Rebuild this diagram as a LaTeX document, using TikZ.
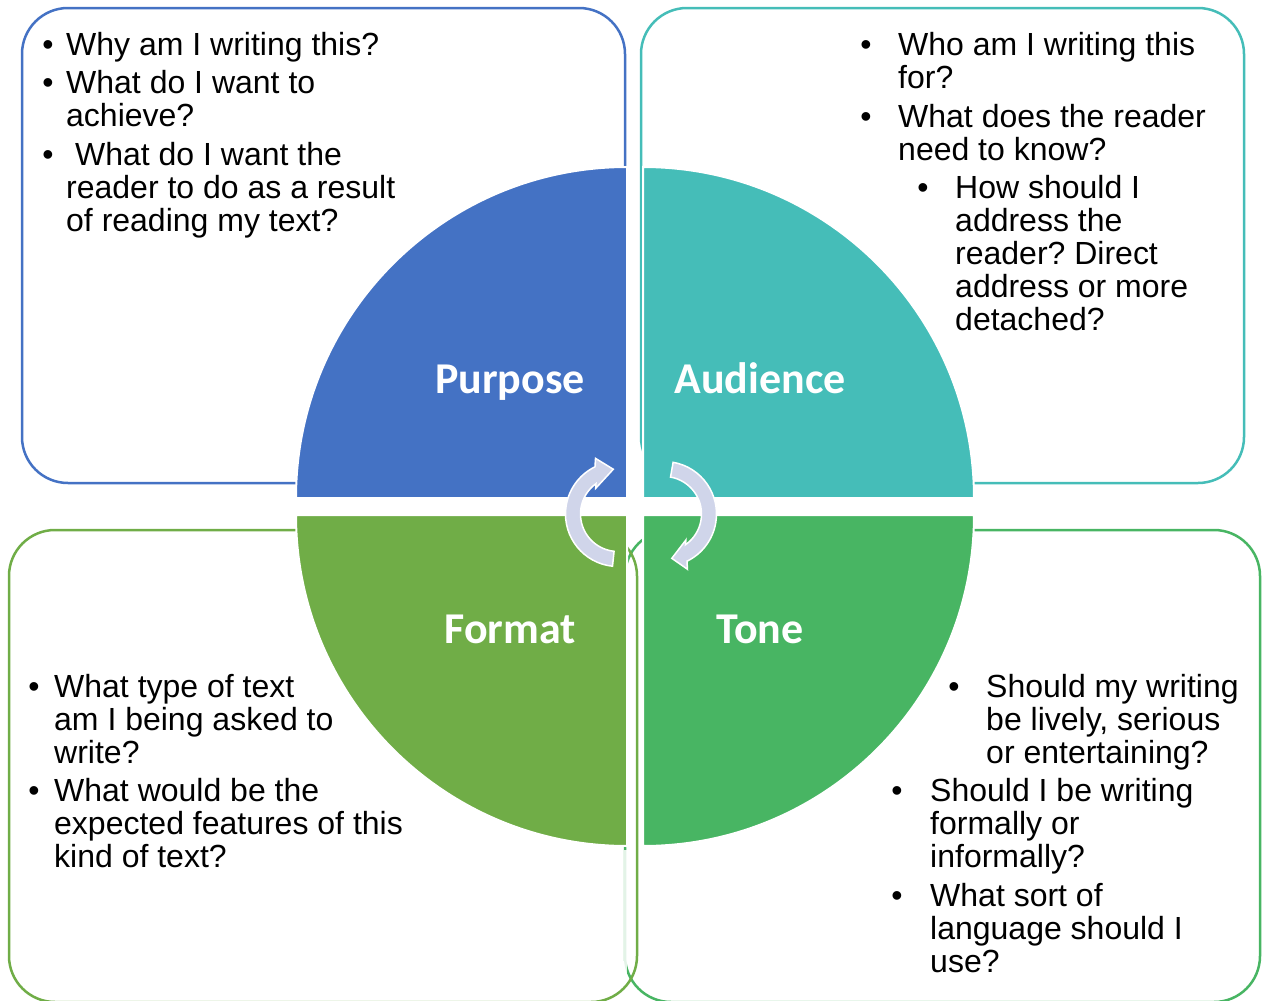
\documentclass[tikz,border=0pt]{standalone}
\usepackage{fontspec}
\setmainfont{Liberation Sans}
\newfontfamily\calibri{Carlito}
\frenchspacing
\definecolor{cPurpose}{HTML}{4472C4}
\definecolor{cAudience}{HTML}{45BDB8}
\definecolor{cFormat}{HTML}{70AD47}
\definecolor{cTone}{HTML}{48B563}
\definecolor{cArrow}{HTML}{D0D5EA}
\newcommand{\lines}[1]{\begin{tabular}[t]{@{}l@{}}#1\end{tabular}}
\begin{document}
\begin{tikzpicture}[x=1pt,y=-1pt,
  box/.style={line width=2.5pt, rounded corners=46pt},
  quad/.style={draw=white, line width=2pt},
  lab/.style={font=\calibri\bfseries\fontsize{44}{44}\selectfont, text=white, anchor=base, inner sep=0pt},
  body/.style={font=\fontsize{32}{33}\selectfont, anchor=base west, inner sep=0pt},
  bul/.style={font=\fontsize{32}{33}\selectfont, anchor=base, inner sep=0pt},
  cyc/.style={fill=cArrow, draw=white, line width=1.5pt, line join=miter}]
\useasboundingbox (0,0) rectangle (1262,1001);

% outline boxes
\draw[box, draw=cTone] (625,530) rectangle (1260,1002);
\draw[white, line width=3pt, opacity=0.85] (625,850) -- (625,975);
\draw[box, draw=cFormat] (9,530) rectangle (637,1002);
\draw[box, draw=cPurpose] (22,8) rectangle (625,483);
\draw[box, draw=cAudience] (641,8) rectangle (1244,483);

% quadrants
\filldraw[quad, fill=cPurpose] (627,498) -- (296,498) arc[start angle=180,end angle=270,radius=331] -- cycle;
\filldraw[quad, fill=cAudience] (643,498) -- (643,167) arc[start angle=270,end angle=360,radius=331] -- cycle;
\filldraw[quad, fill=cFormat] (627,515) -- (296,515) arc[start angle=180,end angle=90,radius=331] -- cycle;
\filldraw[quad, fill=cTone] (643,515) -- (974,515) arc[start angle=0,end angle=90,radius=331] -- cycle;

% labels
\node[lab] (purpose) at (510,393) {Purpose};
\node[lab] (audience) at (760,393) {Audience};
\node[lab] (format) at (510,643) {Format};
\node[lab] (tone) at (760,643) {Tone};

% circular arrows
\begin{scope}[shift={(618,514)}]
\filldraw[cyc] (96:52.5) arc[start angle=96,end angle=244,radius=52.5] -- (248:60) -- (264:45) -- (229:34) -- (234:37.5) arc[start angle=234,end angle=96,radius=37.5] -- cycle;
\end{scope}
\begin{scope}[shift={(664,514)}]
\filldraw[cyc] (280:52.5) arc[start angle=280,end angle=424,radius=52.5] -- (427:60) -- (440:45) -- (410:34) -- (415:37.5) arc[start angle=415,end angle=280,radius=37.5] -- cycle;
\end{scope}

% Purpose text
\node[bul] (pb1) at (48,55) {•};
\node[body] (pt1) at (66,55) {\lines{Why am I writing this?}};
\node[bul] (pb2) at (48,93) {•};
\node[body] (pt2) at (66,93) {\lines{What do I want to\\achieve?}};
\node[bul] (pb3) at (48,165) {•};
\node[body] (pt3) at (66,165) {\lines{\ What do I want the\\reader to do as a result\\of reading my text?}};

% Audience text
\node[bul] (ab1) at (866,55) {•};
\node[body] (at1) at (898,55) {\lines{Who am I writing this\\for?}};
\node[bul] (ab2) at (866,127) {•};
\node[body] (at2) at (898,127) {\lines{What does the reader\\need to know?}};
\node[bul] (ab3) at (923,198) {•};
\node[body] (at3) at (955,198) {\lines{How should I\\address the\\reader? Direct\\address or more\\detached?}};

% Format text
\node[bul] (fb1) at (34,697) {•};
\node[body] (ft1) at (54,697) {\lines{What type of text\\am I being asked to\\write?}};
\node[bul] (fb2) at (34,801) {•};
\node[body] (ft2) at (54,801) {\lines{What would be the\\expected features of this\\kind of text?}};

% Tone text
\node[bul] (tb1) at (954,697) {•};
\node[body] (tt1) at (986,697) {\lines{Should my writing\\be lively, serious\\or entertaining?}};
\node[bul] (tb2) at (897,801) {•};
\node[body] (tt2) at (930,801) {\lines{Should I be writing\\formally or\\informally?}};
\node[bul] (tb3) at (897,906) {•};
\node[body] (tt3) at (930,906) {\lines{What sort of\\language should I\\use?}};
\end{tikzpicture}
\end{document}
